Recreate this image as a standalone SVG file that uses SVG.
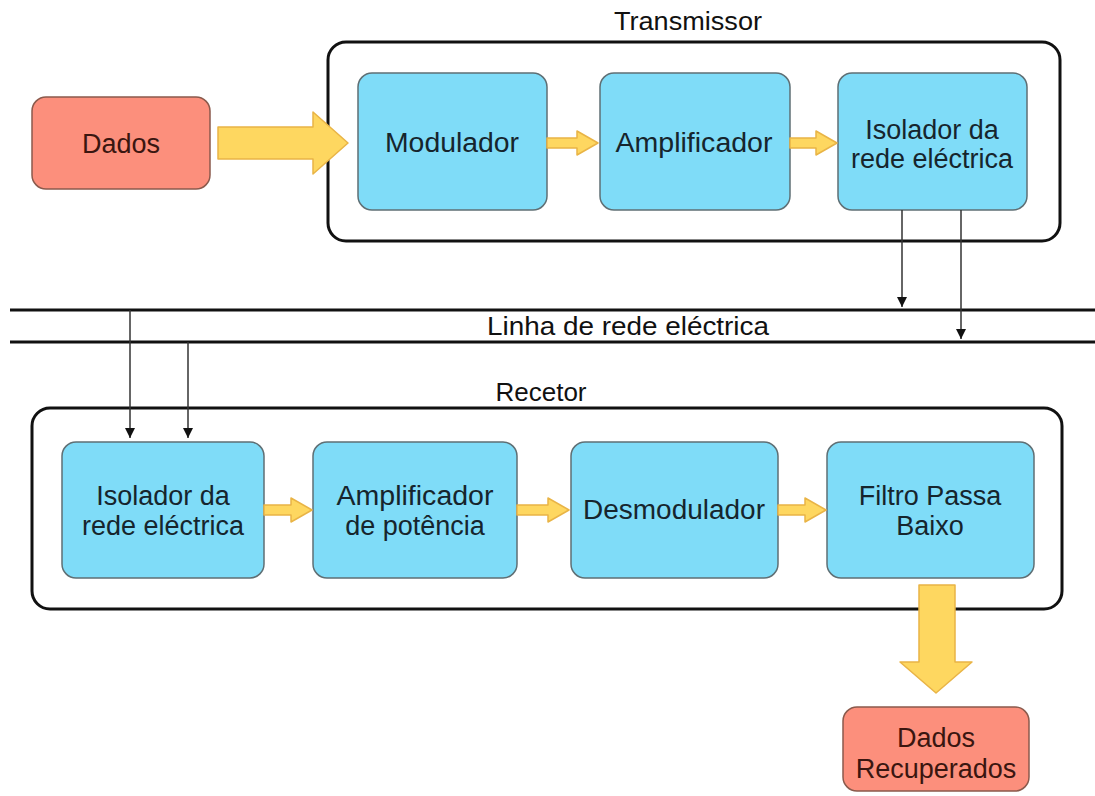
<svg xmlns="http://www.w3.org/2000/svg" width="1095" height="796" viewBox="0 0 1095 796">
<defs>
<style>
.cont{fill:#fff;stroke:#111;stroke-width:3}
.blue{fill:#7fdcf8;stroke:#5f6f74;stroke-width:1.5}
.red{fill:#fc8f7c;stroke:#8a5a4c;stroke-width:1.5}
.t{font-family:"Liberation Sans",Arial,sans-serif;font-size:27px;text-anchor:middle;fill:#16252d}
.tr{font-family:"Liberation Sans",Arial,sans-serif;font-size:27px;text-anchor:middle;fill:#3a1610}
.lbl{font-family:"Liberation Sans",Arial,sans-serif;font-size:26px;text-anchor:middle;fill:#111}
.ya{fill:#fed760;stroke:#e9b446;stroke-width:1.5;stroke-linejoin:round}
.line{stroke:#111;stroke-width:3}
.wire{stroke:#333;stroke-width:1.5;fill:none}
</style>
<marker id="ah" viewBox="0 0 10 10" refX="10" refY="5" markerWidth="10" markerHeight="10" markerUnits="userSpaceOnUse" orient="auto">
<path d="M0,0 L10,5 L0,10 z" fill="#111"/>
</marker>
</defs>
<rect width="1095" height="796" fill="#fff"/>

<g id="transmissor">
<rect class="cont" x="328" y="42" width="732" height="199" rx="18"/>
<text class="lbl" x="688" y="30" textLength="148" lengthAdjust="spacingAndGlyphs">Transmissor</text>
</g>
<g id="recetor">
<rect class="cont" x="32" y="408" width="1030" height="201" rx="18"/>
<text class="lbl" x="541" y="401">Recetor</text>
</g>

<g id="linha">
<line class="line" x1="10" y1="310" x2="1095" y2="310"/>
<line class="line" x1="10" y1="342" x2="1095" y2="342"/>
<text class="lbl" x="628" y="335" textLength="282" lengthAdjust="spacingAndGlyphs">Linha de rede eléctrica</text>
</g>

<g id="dados">
<rect class="red" x="32" y="97" width="178" height="92" rx="14"/>
<text class="tr" x="121" y="153">Dados</text>
</g>
<g id="modulador">
<rect class="blue" x="358" y="73" width="189" height="137" rx="14"/>
<text class="t" x="452" y="152" textLength="134" lengthAdjust="spacingAndGlyphs">Modulador</text>
</g>
<g id="amplificador">
<rect class="blue" x="600" y="73" width="190" height="137" rx="14"/>
<text class="t" x="694" y="152" textLength="157" lengthAdjust="spacingAndGlyphs">Amplificador</text>
</g>
<g id="isolador-tx">
<rect class="blue" x="838" y="73" width="189" height="137" rx="14"/>
<text class="t" x="932" y="139">Isolador da</text>
<text class="t" x="932" y="168" textLength="162" lengthAdjust="spacingAndGlyphs">rede eléctrica</text>
</g>

<g id="isolador-rx">
<rect class="blue" x="62" y="442" width="202" height="136" rx="14"/>
<text class="t" x="163" y="505">Isolador da</text>
<text class="t" x="163" y="535" textLength="162" lengthAdjust="spacingAndGlyphs">rede eléctrica</text>
</g>
<g id="amplificador-potencia">
<rect class="blue" x="313" y="442" width="204" height="136" rx="14"/>
<text class="t" x="415" y="505" textLength="157" lengthAdjust="spacingAndGlyphs">Amplificador</text>
<text class="t" x="415" y="535">de potência</text>
</g>
<g id="desmodulador">
<rect class="blue" x="571" y="442" width="207" height="136" rx="14"/>
<text class="t" x="674" y="519" textLength="182" lengthAdjust="spacingAndGlyphs">Desmodulador</text>
</g>
<g id="filtro">
<rect class="blue" x="827" y="442" width="207" height="136" rx="14"/>
<text class="t" x="930" y="505">Filtro Passa</text>
<text class="t" x="930" y="535">Baixo</text>
</g>
<g id="dados-recuperados">
<rect class="red" x="843" y="707" width="186" height="84" rx="14"/>
<text class="tr" x="936" y="747">Dados</text>
<text class="tr" x="936" y="778">Recuperados</text>
</g>

<g id="connectors">
<path class="ya" d="M218,127 H313 V112 L348,143 L313,174 V159 H218 Z"/>
<path class="ya" d="M547,138 H577 V131 L598,143 L577,155 V148 H547 Z"/>
<path class="ya" d="M790,138 H816 V131 L837,143 L816,155 V148 H790 Z"/>
<path class="ya" d="M264,505 H291 V498 L312,510 L291,522 V515 H264 Z"/>
<path class="ya" d="M517,505 H548 V498 L569,510 L548,522 V515 H517 Z"/>
<path class="ya" d="M778,505 H805 V498 L826,510 L805,522 V515 H778 Z"/>
<path class="ya" d="M919,585 H955 V662 H972 L936,693 L900,662 H919 Z"/>
<line class="wire" x1="902" y1="210" x2="902" y2="307" marker-end="url(#ah)"/>
<line class="wire" x1="961" y1="210" x2="961" y2="339" marker-end="url(#ah)"/>
<line class="wire" x1="130" y1="310" x2="130" y2="438" marker-end="url(#ah)"/>
<line class="wire" x1="188" y1="342" x2="188" y2="438" marker-end="url(#ah)"/>
</g>
</svg>
